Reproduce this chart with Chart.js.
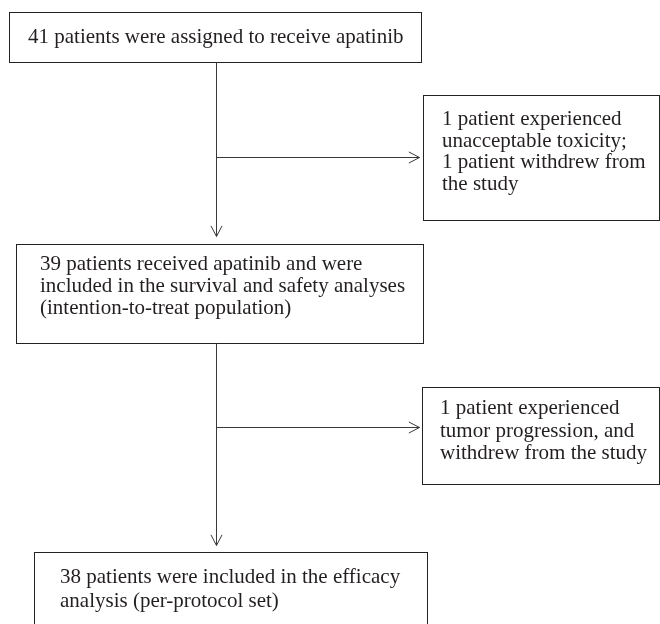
<!DOCTYPE html>
<html>
<head>
<meta charset="utf-8">
<script src="https://cdn.jsdelivr.net/npm/chart.js@4.4.1/dist/chart.umd.min.js"></script>
<style>
  html, body { margin: 0; padding: 0; background: #fff; }
  #wrap { width: 660px; height: 624px; }
</style>
</head>
<body>
<div id="wrap"><canvas id="flow"></canvas></div>
<script>
// box texts (one array per box)
var enrolledText = ["41 patients were assigned to receive apatinib"];
var excluded1Text = ["1 patient experienced", "unacceptable toxicity;", "1 patient withdrew from", "the study"];
var ittText = ["39 patients received apatinib and were", "included in the survival and safety analyses", "(intention-to-treat population)"];
var excluded2Text = ["1 patient experienced", "tumor progression, and", "withdrew from the study"];
var ppsText = ["38 patients were included in the efficacy", "analysis (per-protocol set)"];

// layout (page units, 0..660 x 0..624)
var boxes = [
    { text: enrolledText,  x0: 9,   x1: 421, y0: 12,  y1: 62,  tx: 28,  ty: 43,  lh: 22 },
    { text: excluded1Text, x0: 423, x1: 659, y0: 95,  y1: 220, tx: 442, ty: 125, lh: 21.5 },
    { text: ittText,       x0: 16,  x1: 423, y0: 244, y1: 343, tx: 40,  ty: 270, lh: 22 },
    { text: excluded2Text, x0: 422, x1: 659, y0: 387, y1: 484, tx: 440, ty: 414, lh: 22.5 },
    { text: ppsText,       x0: 34,  x1: 427, y0: 552, y1: 640, tx: 60,  ty: 583, lh: 24 }
];
var arrows = [
    { x0: 216, y0: 62,  x1: 216, y1: 236 },
    { x0: 216, y0: 157, x1: 419, y1: 157 },
    { x0: 216, y0: 343, x1: 216, y1: 545 },
    { x0: 216, y0: 427, x1: 419, y1: 427 }
];

var flowPlugin = {
    id: "flow",
    afterDraw: function (chart) {
        var c = chart.ctx;
        var sx = chart.scales.x, sy = chart.scales.y;
        function px(v) { return Math.round(sx.getPixelForValue(v)) + 0.5; }
        function py(v) { return Math.round(sy.getPixelForValue(v)) + 0.5; }
        c.save();
        // boxes
        c.lineWidth = 1;
        c.strokeStyle = "#222";
        c.fillStyle = "#231f20";
        c.font = "21px 'Liberation Serif', serif";
        c.textBaseline = "alphabetic";
        c.textAlign = "left";
        boxes.forEach(function (b) {
            c.strokeRect(px(b.x0), py(b.y0), px(b.x1) - px(b.x0), py(b.y1) - py(b.y0));
            b.text.forEach(function (line, i) {
                c.fillText(line, sx.getPixelForValue(b.tx), sy.getPixelForValue(b.ty + i * b.lh));
            });
        });
        // arrows
        c.strokeStyle = "#3a3a3a";
        arrows.forEach(function (a) {
            var x0 = px(a.x0), y0 = py(a.y0), x1 = px(a.x1), y1 = py(a.y1);
            c.beginPath();
            c.moveTo(x0, y0);
            c.lineTo(x1, y1);
            c.stroke();
            var ang = Math.atan2(y1 - y0, x1 - x0);
            var len = 12, spread = 0.48;
            c.beginPath();
            c.moveTo(x1 - len * Math.cos(ang - spread), y1 - len * Math.sin(ang - spread));
            c.lineTo(x1, y1);
            c.lineTo(x1 - len * Math.cos(ang + spread), y1 - len * Math.sin(ang + spread));
            c.stroke();
        });
        c.restore();
    }
};

var ctx = document.getElementById("flow");
var flowChart = new Chart(ctx, {
    type: "scatter",
    data: { datasets: [{ data: [] }] },
    options: {
        responsive: true,
        maintainAspectRatio: false,
        animation: false,
        layout: { padding: 0 },
        plugins: { legend: { display: false }, tooltip: { enabled: false } },
        scales: {
            x: { type: "linear", min: 0, max: 660, display: false },
            y: { type: "linear", min: 0, max: 624, reverse: true, display: false }
        }
    },
    plugins: [flowPlugin]
});
</script>
</body>
</html>
